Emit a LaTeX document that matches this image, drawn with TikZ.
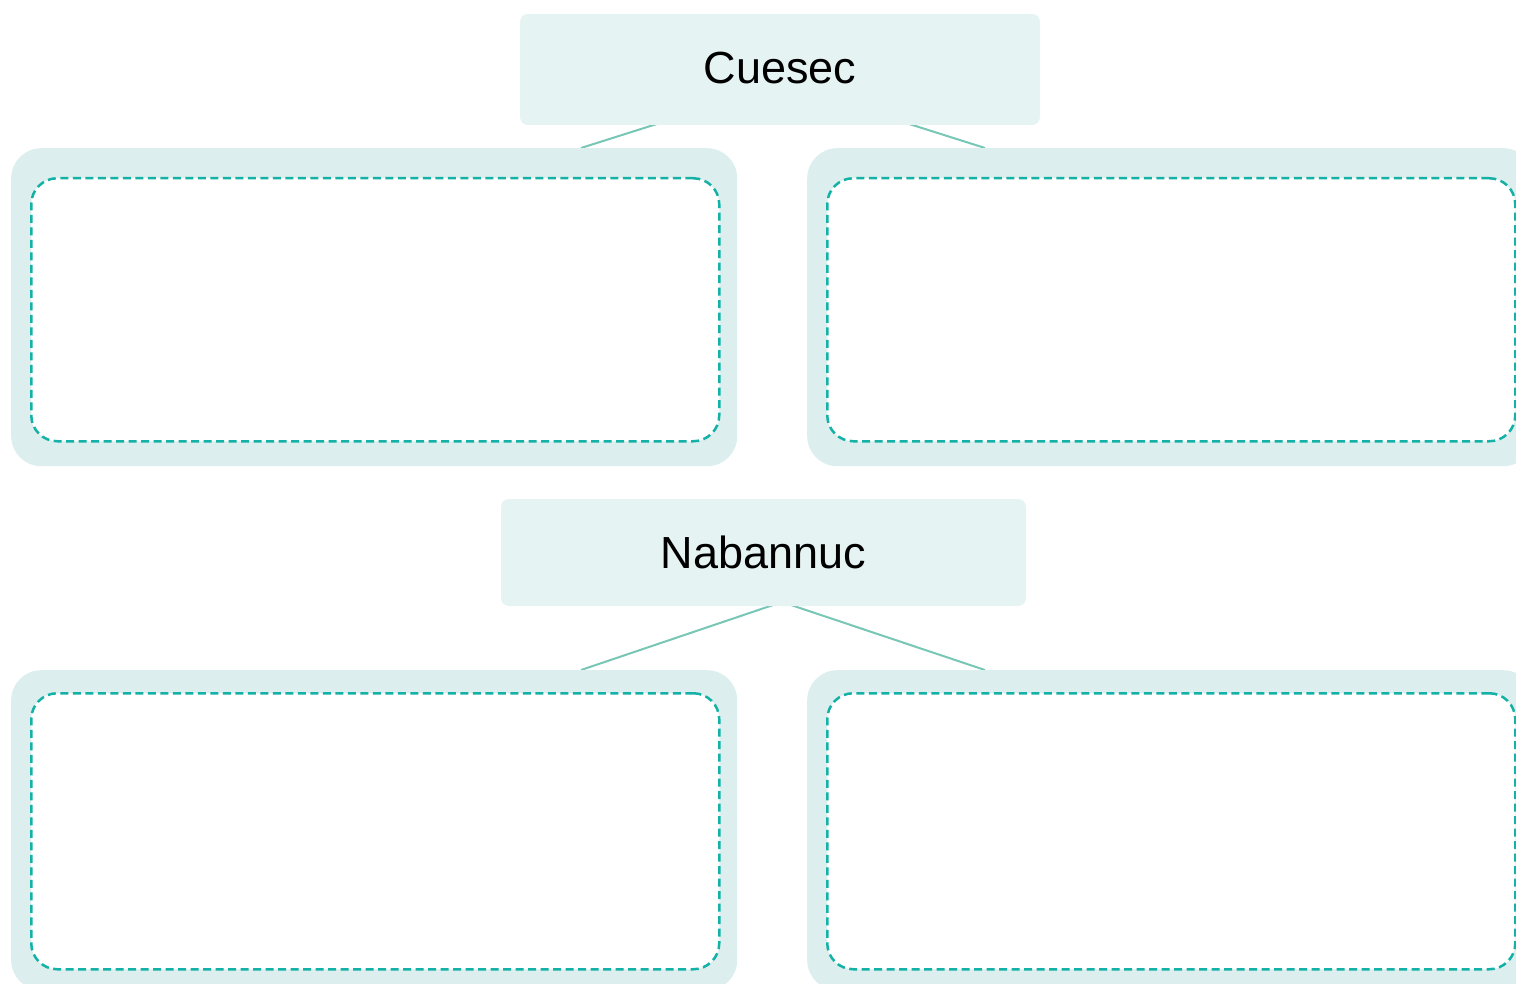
\documentclass[tikz,border=0pt]{standalone}
\usepackage{fontspec}
\setmainfont{Liberation Sans}
\usetikzlibrary{backgrounds}
\definecolor{nodefill}{HTML}{E6F3F3}
\definecolor{outerfill}{HTML}{DCEEED}
\definecolor{dashcol}{HTML}{14B1A7}
\definecolor{linkcol}{HTML}{78C6B6}
\begin{document}
\begin{tikzpicture}[x=1pt,y=-1pt,
  titlebox/.style={fill=nodefill, rounded corners=8pt, inner sep=0pt, text=black, font=\fontsize{45}{54}\selectfont},
  outerbox/.style={fill=outerfill, rounded corners=30pt, anchor=north west, inner sep=0pt},
  innerbox/.style={fill=white, draw=dashcol, dash pattern=on 8pt off 4.5pt, line width=2.5pt, rounded corners=26pt, anchor=north west, inner sep=0pt},
  link/.style={draw=linkcol, line width=2pt}]
\useasboundingbox (0,0) rectangle (1516,984);
\clip (0,0) rectangle (1516,984);
% top group
\node[titlebox, minimum width=520pt, minimum height=111pt] (cuesec) at (780,69.5) {\raisebox{3pt}{Cuesec}};
\coordinate (cjoin) at (783,84);
\node[outerbox, minimum width=726pt, minimum height=318pt] (tl) at (11,148) {};
\node[outerbox, minimum width=726pt, minimum height=318pt] (tr) at (807,148) {};
\node[innerbox, minimum width=688pt, minimum height=263pt] (tli) at (30,177) {};
\node[innerbox, minimum width=688pt, minimum height=263pt] (tri) at (826,177) {};
\coordinate (tlend) at (581,148);
\coordinate (trend) at (985,148);
% bottom group
\node[titlebox, minimum width=525pt, minimum height=107pt] (naban) at (763.5,552.5) {Nabannuc};
\coordinate (njoin) at (782,602);
\node[outerbox, minimum width=726pt, minimum height=320pt] (bl) at (11,670) {};
\node[outerbox, minimum width=726pt, minimum height=320pt] (br) at (807,670) {};
\node[innerbox, minimum width=688pt, minimum height=276pt] (bli) at (30,692) {};
\node[innerbox, minimum width=688pt, minimum height=276pt] (bri) at (826,692) {};
\coordinate (blend) at (581,670);
\coordinate (brend) at (985,670);
\begin{scope}[on background layer]
\draw[link] (cjoin) -- (tlend);
\draw[link] (cjoin) -- (trend);
\draw[link] (njoin) -- (blend);
\draw[link] (njoin) -- (brend);
\end{scope}
\end{tikzpicture}
\end{document}
